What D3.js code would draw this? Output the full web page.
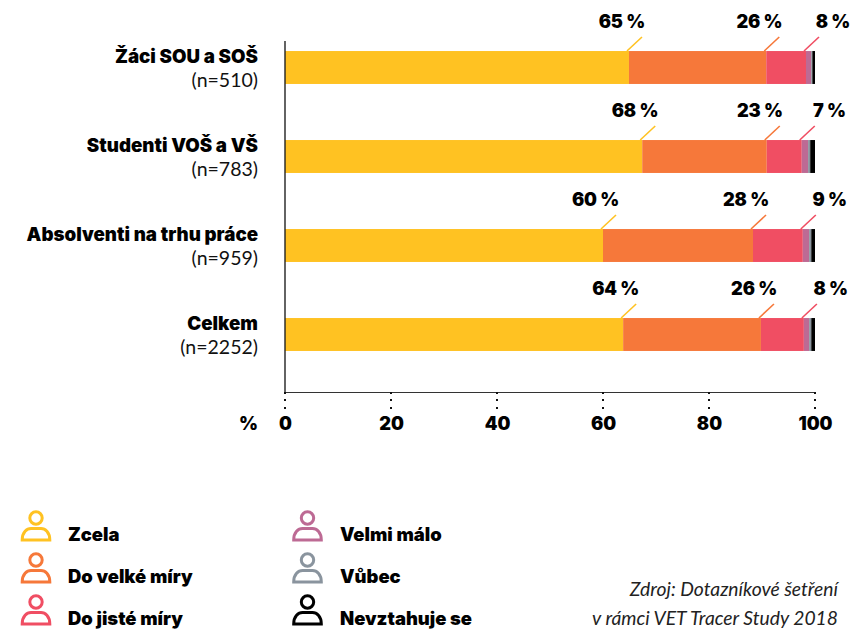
<!DOCTYPE html>
<html><head><meta charset="utf-8">
<script src="https://cdn.jsdelivr.net/npm/d3@7"></script>
<style>html,body{margin:0;padding:0;background:#fff}svg{display:block}</style>
</head><body><svg id="c" width="863" height="629"></svg>
<script>
const categories = ["Žáci SOU a SOŠ","Studenti VOŠ a VŠ","Absolventi na trhu práce","Celkem"];
const sampleSizes = ["(n=510)","(n=783)","(n=959)","(n=2252)"];
const seriesNames = ["Zcela","Do velké míry","Do jisté míry","Velmi málo","Vůbec","Nevztahuje se"];
const seriesColors = ["#ffc222","#f6783a","#f04e63","#bd6a94","#8a949e","#000000"];
const zcela = [64.9,67.4,60,63.8];
const doVelke = [25.9,23.5,28.3,26];
const doJiste = [7.5,6.6,9.4,8.1];
const velmiMalo = [1.0,1.2,1.2,1.0];
const vubec = [0.2,0.4,0.4,0.4];
const nevztahuje = [0.5,0.9,0.7,0.7];
const shownLabels = [["65 %","26 %","8 %"],["68 %","23 %","7 %"],["60 %","28 %","9 %"],["64 %","26 %","8 %"]];
const xTicks = [0,20,40,60,80,100];
const source = ["Zdroj: Dotazníkové šetření","v rámci VET Tracer Study 2018"];
const allSeries = [zcela,doVelke,doJiste,velmiMalo,vubec,nevztahuje];

const svg = d3.select("#c");
const x = d3.scaleLinear().domain([0,100]).range([285,815]);
const y = d3.scaleBand().domain(categories).range([23,379]).paddingInner(0.63).paddingOuter(0.315);
const heavy = "Inter, sans-serif", hw = 900, hs = 18.2;
const light = "Lato, sans-serif";

categories.forEach((c,i)=>{
  let acc=0;
  allSeries.forEach((s,k)=>{
    svg.append("rect").attr("x",x(acc)).attr("y",y(c)).attr("width",x(acc+s[i])-x(acc)).attr("height",y.bandwidth()).attr("fill",seriesColors[k]);
    acc+=s[i];
  });
  svg.append("text").attr("x",258).attr("y",y(c)+y.bandwidth()/2-5).attr("text-anchor","end")
    .attr("font-family",heavy).attr("font-weight",hw).attr("font-size",18.7).text(c);
  svg.append("text").attr("x",258).attr("y",y(c)+y.bandwidth()/2+19).attr("text-anchor","end")
    .attr("font-family",light).attr("font-weight",400).attr("font-size",19.5).attr("fill","#111").text(sampleSizes[i]);
  acc=0;
  [0,1,2].forEach(k=>{
    acc+=allSeries[k][i];
    const px=x(acc), top=y(c);
    svg.append("line").attr("x1",px-2).attr("y1",top).attr("x2",px+13).attr("y2",top-14)
      .attr("stroke",seriesColors[k]).attr("stroke-width",1.6);
    svg.append("text").attr("x",px+(k==2?44:16)).attr("y",top-23).attr("text-anchor","end")
      .attr("font-family",heavy).attr("font-weight",hw).attr("font-size",hs).attr("letter-spacing",-0.2).text(shownLabels[i][k]);
  });
});

svg.append("line").attr("x1",285).attr("x2",285).attr("y1",41).attr("y2",393).attr("stroke","#222").attr("stroke-width",1.4);
svg.append("line").attr("x1",284.3).attr("x2",815).attr("y1",392.5).attr("y2",392.5).attr("stroke","#333").attr("stroke-width",1.2);

const axis = d3.axisBottom(x).tickValues(xTicks).tickSize(0).tickPadding(0).tickFormat(d=>d);
const gx = svg.append("g").attr("transform","translate(0,430)").call(axis);
gx.select(".domain").remove();
gx.selectAll("text").attr("y",0).attr("dy",0).attr("font-family",heavy).attr("font-weight",hw).attr("font-size",hs).attr("fill","#000");
xTicks.forEach(t=>{
  [393,400,408].forEach(py=>{
    svg.append("rect").attr("x",x(t)-1).attr("y",py-1).attr("width",2).attr("height",2).attr("fill","#111");
  });
});
svg.append("text").attr("x",258).attr("y",430).attr("text-anchor","end").attr("font-family",heavy).attr("font-weight",hw).attr("font-size",hs).text("%");

const legendPos = [[36,68,534],[36,68,576],[36,68,618],[307.5,340,534],[307.5,340,576],[307.5,340,618]];
seriesNames.forEach((n,k)=>{
  const [cx,tx,base]=legendPos[k];
  const g=svg.append("g").attr("transform",`translate(${cx},${base+7})`).attr("fill","none").attr("stroke",seriesColors[k]).attr("stroke-width",3);
  g.append("circle").attr("cx",0).attr("cy",-23).attr("r",6.2);
  g.append("path").attr("d","M-13.8,-1 C-13.8,-9 -9,-12.5 -5,-12.5 L5,-12.5 C9,-12.5 13.8,-9 13.8,-1 Z");
  svg.append("text").attr("x",tx).attr("y",base+7).attr("font-family",heavy).attr("font-weight",hw).attr("font-size",18.4).text(n);
});
source.forEach((s,i)=>{
  svg.append("text").attr("x",838).attr("y",596+i*29).attr("text-anchor","end").attr("font-family",light).attr("font-style","italic").attr("font-size",19.3).attr("fill","#222").text(s);
});
</script></body></html>
